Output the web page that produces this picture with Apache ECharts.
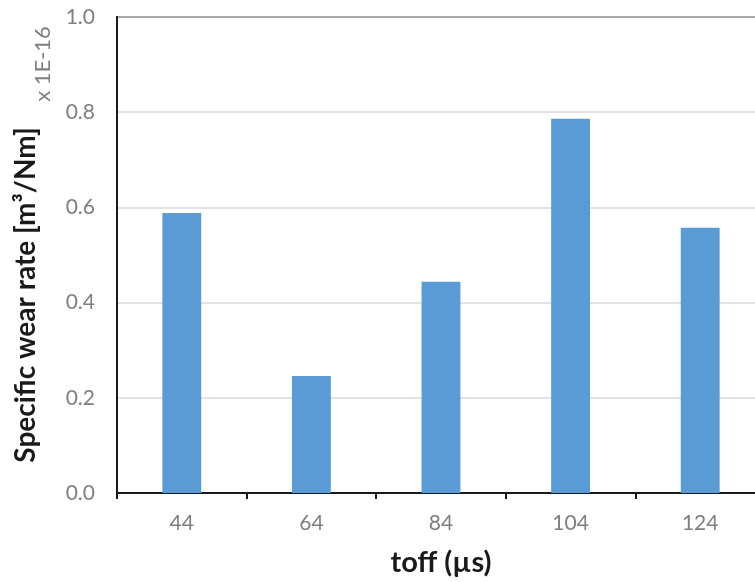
<!DOCTYPE html>
<html>
<head>
<meta charset="utf-8">
<script src="https://cdn.jsdelivr.net/npm/echarts@6/dist/echarts.min.js"></script>
<style>
  html, body { margin: 0; padding: 0; background: #ffffff; overflow: hidden; }
  /* plot runs slightly past the right edge of the window */
  #chart { width: 765px; height: 582px; }
</style>
</head>
<body>
<div id="chart"></div>
<script>
// Pulse-off time settings (µs)
const toffValues = ['44', '64', '84', '104', '124'];
// Specific wear rate, in units of 1E-16 m³/Nm
const wearRate = [0.588, 0.246, 0.444, 0.786, 0.557];
// Value axis range and step
const yMin = 0;
const yMax = 1.0;
const yStep = 0.2;

const labelFont = 'Lato, "Open Sans", "DejaVu Sans", sans-serif';
const chart = echarts.init(document.getElementById('chart'));

chart.setOption({
  animation: false,
  backgroundColor: '#ffffff',
  grid: {
    left: 117,
    top: 17,
    right: 0,
    height: 479,
    show: true,
    borderColor: '#1a1a1a',
    borderWidth: 2,
    backgroundColor: 'transparent'
  },
  xAxis: {
    type: 'category',
    data: toffValues,
    boundaryGap: true,
    axisLine: { show: true, lineStyle: { color: '#1a1a1a', width: 2 } },
    axisTick: { show: true, alignWithLabel: false, length: 6, lineStyle: { color: '#1a1a1a', width: 2 } },
    axisLabel: { color: '#7f7f7f', fontSize: 21, fontFamily: labelFont, margin: 20 },
    name: 'toff (µs)',
    nameLocation: 'middle',
    nameGap: 55,
    nameTextStyle: { color: '#1a1a1a', fontSize: 29, fontWeight: 'bold', fontFamily: labelFont },
    splitLine: { show: false }
  },
  yAxis: {
    type: 'value',
    min: yMin,
    max: yMax,
    interval: yStep,
    axisLine: { show: true, lineStyle: { color: '#1a1a1a', width: 2 } },
    axisTick: { show: false },
    axisLabel: {
      color: '#7f7f7f',
      fontSize: 21,
      fontFamily: labelFont,
      margin: 22,
      formatter: v => v.toFixed(1)
    },
    splitLine: { show: true, lineStyle: { color: '#d9d9d9', width: 1.5 } }
  },
  graphic: [
    {
      type: 'text',
      x: 26,
      y: 295,
      rotation: Math.PI / 2,
      style: {
        text: 'Specific wear rate [m³/Nm]',
        fill: '#1a1a1a',
        font: 'bold 28px Lato, "Open Sans", "DejaVu Sans", sans-serif',
        align: 'center',
        verticalAlign: 'middle'
      }
    },
    {
      type: 'text',
      x: 43,
      y: 64,
      rotation: Math.PI / 2,
      style: {
        text: 'x 1E-16',
        fill: '#7f7f7f',
        font: '22px Lato, "Open Sans", "DejaVu Sans", sans-serif',
        align: 'center',
        verticalAlign: 'middle'
      }
    }
  ],
  series: [
    {
      type: 'bar',
      data: wearRate,
      barWidth: '30%',
      itemStyle: { color: '#5b9bd5' }
    }
  ]
});
</script>
</body>
</html>
